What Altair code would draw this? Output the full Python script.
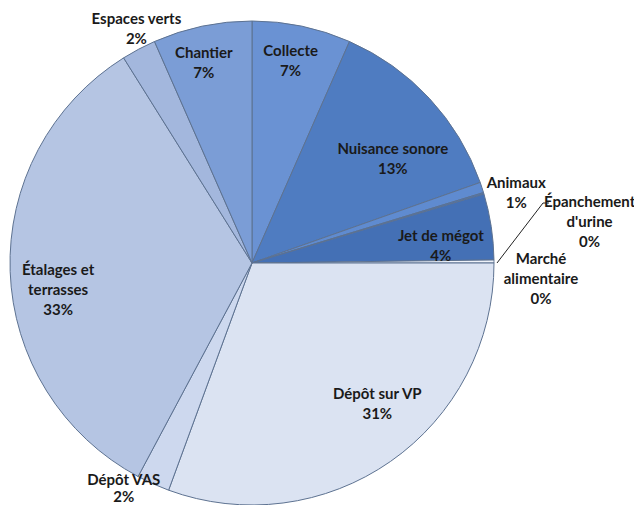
import math
import altair as alt
import pandas as pd

# --- data (clockwise from 12 o'clock) ---
categories = ["Collecte", "Nuisance sonore", "Animaux", "Épanchement d'urine",
              "Jet de mégot", "Marché alimentaire", "Dépôt sur VP", "Dépôt VAS",
              "Étalages et terrasses", "Espaces verts", "Chantier"]
label_names = ["Collecte", "Nuisance sonore", "Animaux", "Épanchement\nd'urine",
               "Jet de mégot", "Marché\nalimentaire", "Dépôt sur VP", "Dépôt VAS",
               "Étalages et\nterrasses", "Espaces verts", "Chantier"]
values = [6.6, 13.0, 0.7, 0.1, 4.4, 0.2, 30.6, 2.2, 33.3, 2.3, 6.6]

# --- styling ---
colors = ["#6a92d3", "#4f7cc1", "#5f8bd0", "#4a77bc", "#4470b5", "#eef2f9",
          "#dbe3f2", "#cdd8ee", "#b5c5e3", "#a3b7dd", "#7b9dd6"]
# label placement: (radius, dx, dy, lineHeight)
label_layout = {
    "Collecte": (207, -4, -9, 20),
    "Nuisance sonore": (177, 11, 6, 20),
    "Animaux": (276, 2, 6, 20),
    "Épanchement d'urine": (340, 12, 37, 20),
    "Jet de mégot": (190, 1, 2, 20),
    "Marché alimentaire": (291, -2, -2, 20),
    "Dépôt sur VP": (170, 28, -8, 20),
    "Dépôt VAS": (265, -20, -25, 17),
    "Étalages et terrasses": (194, 0, 0, 20),
    "Espaces verts": (262, 7, -12, 20),
    "Chantier": (205, -6, -9, 20),
}
CX, CY, R = 241, 255, 242

df = pd.DataFrame({"cat": categories, "name": label_names, "value": values})
df["end"] = df["value"].cumsum()
df["start"] = df["end"] - df["value"]
df["mid"] = (df["start"] + df["end"]) / 2
df["label"] = [f"{n}\n{round(v):.0f}%" for n, v in zip(label_names, values)]

theta_scale = alt.Scale(domain=[0, 100], range=[0, 2 * math.pi])

arcs = alt.Chart(df).mark_arc(radius=R, stroke="#5d7291", strokeWidth=1).encode(
    theta=alt.Theta("start:Q", scale=theta_scale),
    theta2="end:Q",
    color=alt.Color("cat:N", scale=alt.Scale(domain=categories, range=colors), legend=None),
    x=alt.value(CX),
    y=alt.value(CY),
)

layers = [arcs]
for cat in categories:
    r, dx, dy, lh = label_layout[cat]
    layers.append(
        alt.Chart(df).transform_filter(alt.datum.cat == cat).mark_text(
            radius=r, dx=dx, dy=dy, lineBreak="\n", font="Lato", fontWeight="bold",
            fontSize=15, lineHeight=lh, align="center", baseline="middle", color="#1a1a1a",
        ).encode(
            theta=alt.Theta("mid:Q", scale=theta_scale),
            text="label:N",
            x=alt.value(CX),
            y=alt.value(CY),
        )
    )

leader = alt.Chart(pd.DataFrame({"a": [0]})).mark_rule(color="#222222", strokeWidth=1).encode(
    x=alt.value(486), y=alt.value(255), x2=alt.value(532), y2=alt.value(195)
)
tick = alt.Chart(pd.DataFrame({"a": [0]})).mark_rule(color="#222222", strokeWidth=1).encode(
    x=alt.value(532), y=alt.value(195), x2=alt.value(538), y2=alt.value(195)
)
layers += [leader, tick]

chart = alt.layer(*layers).properties(
    width=626, height=497, padding=0,
    autosize=alt.AutoSizeParams(type="fit", contains="padding"),
).configure_view(stroke=None)

chart.save("out.html", embed_options={"renderer": "svg", "actions": False})
